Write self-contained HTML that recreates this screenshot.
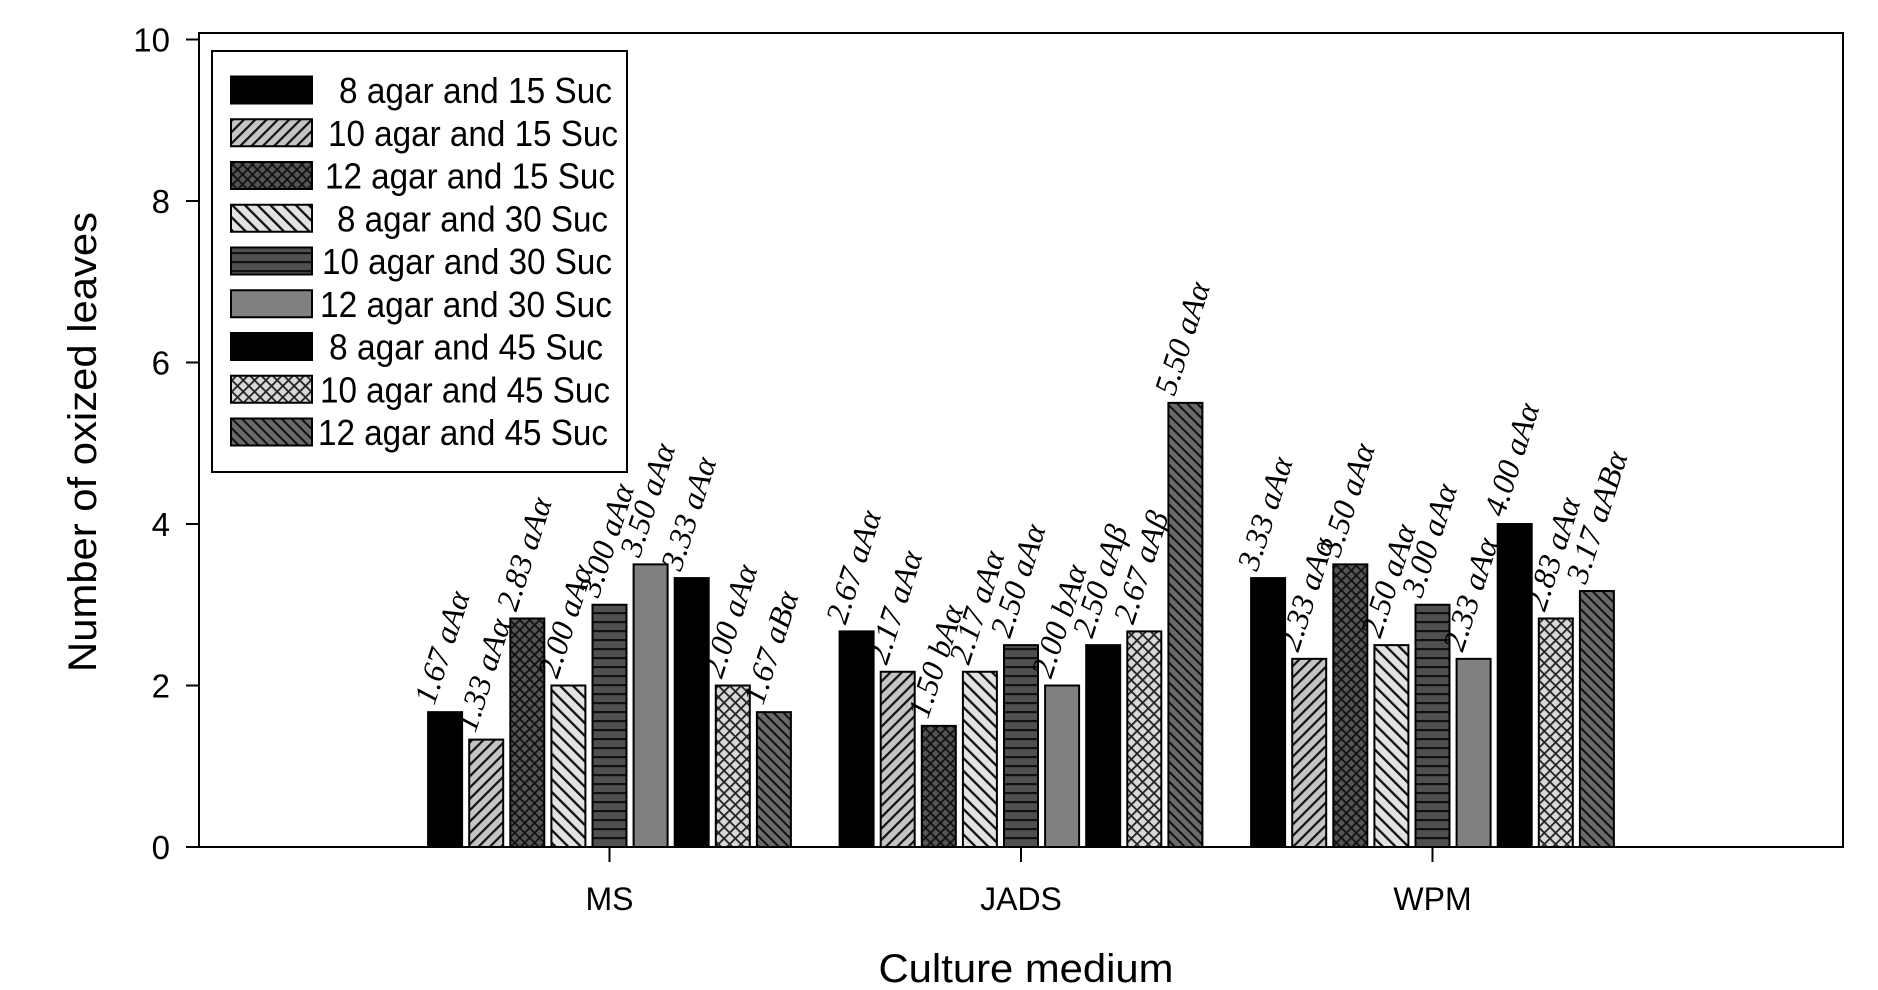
<!DOCTYPE html>
<html><head><meta charset="utf-8"><style>
html,body{margin:0;padding:0;background:#fff}
svg{display:block}
</style></head><body>
<svg id="chart" width="1878" height="990" viewBox="0 0 1878 990" xmlns="http://www.w3.org/2000/svg" font-family="'Liberation Sans', sans-serif">
<defs>
<pattern id="p2" patternUnits="userSpaceOnUse" width="8" height="8" patternTransform="rotate(45)"><rect width="8" height="8" fill="#c4c4c4"/><rect x="0" width="2.2" height="8" fill="#111"/></pattern>
<pattern id="p3" patternUnits="userSpaceOnUse" width="7" height="7" patternTransform="rotate(45)"><rect width="7" height="7" fill="#555"/><rect width="1.8" height="7" fill="#111"/><rect width="7" height="1.8" fill="#111"/></pattern>
<pattern id="p4" patternUnits="userSpaceOnUse" width="9" height="9" patternTransform="rotate(-45)"><rect width="9" height="9" fill="#e2e2e2"/><rect width="2.3" height="9" fill="#111"/></pattern>
<pattern id="p5" patternUnits="userSpaceOnUse" width="8" height="9"><rect width="8" height="9" fill="#505050"/><rect width="8" height="2.2" fill="#111"/></pattern>
<pattern id="p8" patternUnits="userSpaceOnUse" width="8" height="8" patternTransform="rotate(45)"><rect width="8" height="8" fill="#d8d8d8"/><rect width="1.8" height="8" fill="#222"/><rect width="8" height="1.8" fill="#222"/></pattern>
<pattern id="p9" patternUnits="userSpaceOnUse" width="7" height="7" patternTransform="rotate(-45)"><rect width="7" height="7" fill="#6a6a6a"/><rect width="2" height="7" fill="#111"/></pattern>
</defs>
<g id="plot"></g>
</svg>
<script>
const categories = ["MS","JADS","WPM"];
const seriesNames = ["8 agar and 15 Suc","10 agar and 15 Suc","12 agar and 15 Suc","8 agar and 30 Suc","10 agar and 30 Suc","12 agar and 30 Suc","8 agar and 45 Suc","10 agar and 45 Suc","12 agar and 45 Suc"];
const msValues   = [1.67,1.33,2.83,2.00,3.00,3.50,3.33,2.00,1.67];
const jadsValues = [2.67,2.17,1.50,2.17,2.50,2.00,2.50,2.67,5.50];
const wpmValues  = [3.33,2.33,3.50,2.50,3.00,2.33,4.00,2.83,3.17];
const msLetters   = ["aAα","aAα","aAα","aAα","aAα","aAα","aAα","aAα","aBα"];
const jadsLetters = ["aAα","aAα","bAα","aAα","aAα","bAα","aAβ","aAβ","aAα"];
const wpmLetters  = ["aAα","aAα","aAα","aAα","aAα","aAα","aAα","aAα","aABα"];
const yTicks = [0,2,4,6,8,10];

const values = [msValues, jadsValues, wpmValues];
const letters = [msLetters, jadsLetters, wpmLetters];
const fills = ["#000","url(#p2)","url(#p3)","url(#p4)","url(#p5)","#808080","#000","url(#p8)","url(#p9)"];
const NS = "http://www.w3.org/2000/svg";
const g = document.getElementById("plot");
const L=199, R=1843, T=33, B=847;
const y = v => B - v*(B-39.5)/10;
const catX = i => 609.5 + i*411.5;
const pitch = 41.1, bw = 34;
const barX = (c,s) => catX(c) + (s-4)*pitch - bw/2;
function el(tag, attrs, txt){const e=document.createElementNS(NS,tag);for(const k in attrs)e.setAttribute(k,attrs[k]);if(txt!=null)e.textContent=txt;g.appendChild(e);return e;}

let e;
e = el("rect",{x:L,y:T,width:R-L,height:B-T,fill:"none",stroke:"#000","stroke-width":2});



yTicks.forEach(t=>{
  e = el("line",{x1:186,x2:L,y1:y(t),y2:y(t),stroke:"#000","stroke-width":2});
  
  
  e = el("text",{x:170,y:y(t)+12,"text-anchor":"end","font-size":33},String(t));
  
  
});

categories.forEach((c,ci)=>{
  e = el("line",{x1:catX(ci),x2:catX(ci),y1:B,y2:862,stroke:"#000","stroke-width":2});
  
  
  e = el("text",{x:catX(ci),y:910,"text-anchor":"middle","font-size":32},c);
  
  
  values[ci].forEach((v,si)=>{
    const x=barX(ci,si);
    e = el("rect",{x:x,y:y(v),width:bw,height:B-y(v),fill:fills[si],stroke:"#000","stroke-width":2});
    
    
    const tx=x+6, ty=y(v)-6;
    e = el("text",{x:tx,y:ty,"font-size":32,"font-style":"italic","font-family":"'Liberation Serif', serif",transform:`rotate(-72 ${tx} ${ty})`},v.toFixed(2)+" "+letters[ci][si]);
    
    
  });
});

e = el("text",{x:1026,y:982,"text-anchor":"middle","font-size":40,textLength:295,lengthAdjust:"spacingAndGlyphs"},"Culture medium");


e = el("text",{x:0,y:0,"text-anchor":"middle","font-size":40,textLength:460,lengthAdjust:"spacingAndGlyphs",transform:"translate(96 442) rotate(-90)"},"Number of oxized  leaves");



e = el("rect",{x:212,y:51,width:415,height:421,fill:"#fff",stroke:"#000","stroke-width":2});


const legTextX=[339,328,325,337,322,320,329,320,318];
const legTextEnd=[612,618,615,608,612,612,603,610,608];
seriesNames.forEach((n,i)=>{
  const cy=90+i*42.75;
  e = el("rect",{x:231,y:cy-13.5,width:81,height:27,fill:fills[i],stroke:"#000","stroke-width":2});
  
  
  e = el("text",{x:legTextX[i],y:cy+13,"font-size":36,textLength:legTextEnd[i]-legTextX[i],lengthAdjust:"spacingAndGlyphs"},n);
  
  
});
</script>
</body></html>
